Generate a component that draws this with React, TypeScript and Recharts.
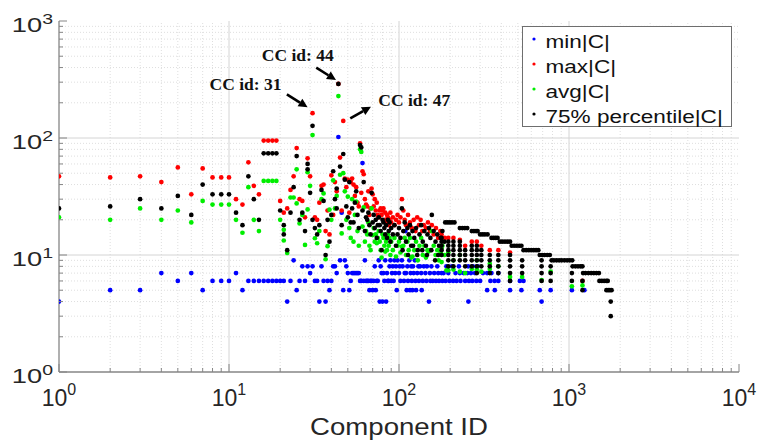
import React from 'react';
import { ScatterChart, Scatter, XAxis, YAxis, ReferenceLine, ReferenceDot, Legend } from 'recharts';

// Component-size statistics per connected component, log-log scatter.
// Each pair is [component id, |C| value].

const SERIES_NAMES = ['min|C|', 'max|C|', 'avg|C|', '75% percentile|C|'];
const SERIES_COLORS = ['#0000ff', '#ff0000', '#00ee00', '#000000'];

const X_DECADES = [1, 10, 100, 1000, 10000];
const Y_DECADES = [1, 10, 100, 1000];

const MIN_C = [
  [1, 4], [2, 5], [3, 5], [4, 7], [5, 6], [6, 7], [7, 5], [8, 6], [9, 6], [10, 6], [11, 7], [12, 5], [13, 6], [14, 6], [15, 6],
  [16, 6], [17, 6], [18, 6], [19, 6], [20, 6], [21, 6], [22, 4], [23, 6], [24, 9], [25, 5], [26, 6], [27, 8], [28, 6], [29, 8],
  [30, 7], [31, 8], [32, 6], [33, 6], [34, 4], [35, 8], [36, 6], [37, 4], [38, 6], [39, 5], [40, 6], [41, 8], [42, 8], [43, 7],
  [44, 102], [45, 9], [46, 23], [47, 5], [48, 9], [49, 8], [50, 7], [51, 5], [52, 6], [53, 7], [54, 7], [55, 7], [56, 7], [57, 7],
  [58, 7], [59, 6], [60, 6], [61, 61], [62, 6], [63, 9], [64, 6], [65, 6], [66, 6], [67, 5], [68, 6], [69, 6], [70, 5], [71, 6],
  [72, 8], [73, 5], [74, 6], [75, 6], [76, 9], [77, 4], [78, 8], [79, 7], [80, 4], [81, 7], [82, 6], [83, 9], [84, 4], [85, 7],
  [86, 6], [87, 6], [88, 8], [89, 9], [90, 6], [91, 7], [92, 8], [93, 6], [94, 9], [95, 7], [96, 8], [97, 5], [98, 9], [100, 7],
  [101, 8], [102, 6], [104, 9], [105, 8], [107, 6], [108, 7], [109, 16], [110, 7], [111, 5], [112, 8], [113, 6], [115, 9], [116, 5],
  [117, 7], [118, 8], [119, 6], [120, 5], [121, 8], [122, 7], [124, 9], [125, 6], [126, 5], [128, 7], [130, 8], [131, 6], [133, 8],
  [135, 7], [136, 5], [138, 6], [140, 8], [143, 7], [145, 6], [146, 8], [150, 4], [152, 7], [153, 6], [155, 8], [158, 6], [161, 7],
  [165, 6], [168, 8], [170, 7], [172, 6], [178, 7], [180, 6], [183, 7], [188, 6], [190, 8], [195, 7], [198, 6], [205, 8], [208, 6],
  [215, 7], [218, 6], [225, 8], [228, 7], [230, 6], [240, 7], [245, 6], [252, 7], [255, 8], [256, 4], [258, 6], [265, 7], [270, 6],
  [272, 8], [280, 7], [285, 6], [290, 8], [300, 6], [312, 7], [330, 5], [330, 7], [345, 6], [350, 7], [365, 6], [366, 5], [384, 7],
  [384, 6], [450, 5], [450, 6], [514, 6], [525, 5], [540, 6], [673, 5], [690, 4], [780, 5], [1040, 5], [1232, 5],
];

const MAX_C = [
  [1, 47], [2, 46], [3, 47], [4, 42], [5, 56], [6, 33], [7, 55], [8, 46], [9, 46], [10, 46], [11, 30], [12, 27], [13, 62], [14, 39],
  [15, 33], [16, 95], [17, 95], [18, 95], [19, 95], [20, 29], [21, 23], [22, 25], [23, 36], [24, 47], [25, 82], [26, 30], [27, 29],
  [28, 21], [29, 67], [30, 47], [31, 163], [32, 21], [33, 20], [34, 28], [35, 39], [36, 40], [37, 16], [38, 24], [39, 15], [40, 48],
  [41, 22], [42, 42], [43, 35], [44, 290], [45, 68], [46, 24], [47, 140], [48, 45], [49, 38], [50, 44], [51, 23], [52, 42], [53, 45],
  [54, 40], [55, 32], [56, 38], [57, 28], [58, 26], [59, 90], [60, 34], [61, 52], [62, 49], [63, 30], [64, 27], [65, 26], [66, 35],
  [67, 22], [68, 25], [69, 37], [70, 33], [71, 26], [72, 30], [73, 24], [74, 28], [75, 22], [76, 21], [77, 24], [78, 25], [79, 22],
  [80, 24], [81, 25], [82, 20], [83, 23], [84, 19], [85, 22], [86, 21], [87, 18], [88, 20], [89, 23], [90, 19], [92, 21], [94, 18],
  [96, 20], [98, 22], [100, 19], [102, 21], [104, 30], [106, 24], [108, 20], [110, 18], [113, 22], [116, 19], [119, 17], [122, 20],
  [125, 16], [128, 21], [131, 18], [134, 20], [137, 16], [140, 18], [144, 17], [148, 19], [152, 16], [156, 18], [160, 15], [165, 17],
  [170, 14], [175, 16], [178, 15], [186, 14], [195, 14], [209, 14], [228, 13.5], [245, 12], [268, 13], [287, 13], [305, 12], [342, 11],
  [384, 11], [450, 10.5], [1200, 6],
];

const AVG_C = [
  [1, 21], [2, 20], [3, 25], [4, 20], [5, 24], [6, 19], [7, 29], [8, 27], [9, 27], [10, 27], [11, 20], [12, 15.5], [13, 38], [14, 20],
  [15, 16], [16, 43], [17, 43], [18, 43], [19, 43], [20, 20], [21, 16.4], [21, 13.3], [22, 10.4], [23, 31], [24, 31], [25, 54],
  [25, 27.6], [26, 18.6], [27, 22], [28, 12.2], [29, 51], [29, 24.5], [30, 39], [31, 106], [32, 13.9], [33, 12.6], [34, 16], [35, 30],
  [36, 33.6], [37, 9.2], [38, 11.9], [39, 24.4], [40, 20], [41, 43.5], [42, 25], [43, 32], [44, 228], [45, 48.5], [46, 15.3], [47, 50],
  [48, 35], [49, 20], [50, 31.5], [51, 17], [52, 14], [53, 30], [54, 13], [55, 22], [56, 28.6], [57, 16], [58, 12], [59, 80], [60, 76],
  [61, 17.5], [62, 25.5], [63, 13], [64, 16], [65, 15], [66, 19], [67, 12], [68, 11], [69, 25], [70, 14.8], [71, 17], [72, 13], [73, 15],
  [74, 12.6], [75, 14], [76, 16], [77, 13], [78, 11], [79, 9.5], [80, 15], [81, 14], [82, 12], [83, 10.7], [84, 13], [85, 11], [86, 15],
  [87, 12], [88, 14], [89, 10], [90, 13], [92, 11], [94, 14], [96, 9.7], [98, 12], [100, 13], [102, 10.5], [104, 11.8], [106, 12],
  [108, 14], [110, 10], [112, 13], [114, 11], [116, 14], [118, 9.5], [120, 9.7], [123, 11], [126, 13], [129, 9], [132, 12], [135, 14],
  [138, 10], [141, 12], [144, 9.5], [147, 11], [149, 10.7], [153, 11], [156, 16], [160, 12], [164, 10], [168, 11], [171, 9], [176, 10.5],
  [178, 11.4], [178, 8.7], [180, 12], [185, 10], [190, 7.4], [195, 10.5], [195, 7.4], [209, 9], [209, 7.5], [228, 10], [228, 7.2],
  [245, 7], [268, 7.6], [287, 9], [287, 7.5], [305, 7.2], [342, 8.4], [342, 7.6], [384, 8], [450, 6.5], [530, 6.5], [690, 6.1],
  [780, 7.2], [1040, 5.4], [1200, 5.5],
];

const P75_C = [
  [1, 25], [2, 26], [3, 30], [4, 25], [5, 32], [6, 22], [7, 40], [8, 33], [9, 33], [10, 33], [11, 23], [12, 18], [13, 47], [14, 30],
  [15, 20], [16, 74], [17, 74], [18, 74], [19, 74], [20, 24], [21, 18], [21, 15], [22, 11], [23, 23], [24, 38], [25, 70], [26, 20],
  [27, 23], [28, 16], [29, 60], [29, 54], [30, 34], [31, 127], [31, 20], [32, 17], [33, 15], [34, 18], [35, 36], [36, 29], [37, 10],
  [38, 20], [39, 13], [40, 22], [41, 52], [42, 30], [43, 37], [43, 25], [44, 290], [45, 57], [46, 18], [47, 73], [48, 44], [49, 26],
  [50, 21], [51, 42], [52, 19], [53, 25], [54, 19], [55, 28], [56, 35], [57, 22], [58, 17], [59, 87], [60, 83], [61, 24], [62, 42],
  [63, 16], [64, 21], [65, 20], [66, 23], [67, 18], [68, 15], [69, 34], [70, 19], [71, 22], [72, 17], [73, 20], [74, 14], [75, 18],
  [76, 21], [77, 18], [78, 16], [79, 11], [80, 20], [81, 19], [82, 17], [83, 15], [84, 18], [85, 14], [86, 20], [87, 16], [88, 19],
  [89, 13], [90, 17], [92, 15], [94, 18], [96, 12], [98, 15], [100, 17], [102, 14], [104, 25], [105, 11], [106, 16], [108, 19],
  [110, 13], [112, 17], [113, 10], [114, 15], [116, 18], [118, 12], [120, 16], [121, 12], [123, 14], [126, 17], [128, 10], [129, 11],
  [132, 15], [135, 18], [137, 11], [138, 13], [141, 16], [144, 12], [146, 10], [147, 15], [150, 17], [153, 14], [155, 11], [156, 22],
  [160, 16], [163, 9], [164, 13], [168, 15], [170, 10], [172, 12], [176, 14], [180, 16], [185, 13],
  // vertical columns below the upper envelope
  [178, 14], [178, 13], [178, 12], [178, 11], [178, 10], [195, 13], [195, 12], [195, 11], [195, 10], [195, 9], [195, 8],
  [209, 13], [209, 12], [209, 11], [209, 10], [209, 9], [209, 8], [228, 13], [228, 12], [228, 11], [228, 10], [228, 9],
  [245, 11], [245, 10], [245, 9], [245, 8], [268, 12], [268, 11], [268, 10], [268, 9], [268, 8], [287, 12], [287, 11], [287, 10],
  [287, 9], [287, 8], [287, 7], [305, 11], [305, 10], [305, 9], [305, 8], [342, 10], [342, 9], [342, 8], [342, 7], [384, 10],
  [384, 9], [384, 8], [384, 7], [450, 10], [450, 9], [450, 8], [450, 7], [450, 6], [530, 9], [530, 8], [530, 7], [690, 9], [690, 8],
  [690, 7], [690, 6], [780, 8], [780, 7], [780, 6], [1040, 7], [1040, 6], [1200, 6], [1200, 5],
  // upper staircase
  [187, 19], [193, 19], [199, 19], [205, 19], [212, 19], [228, 17], [236, 17], [244, 17], [252, 17], [268, 16], [276, 16], [284, 16],
  [290, 16], [300, 15], [310, 15], [320, 15], [332, 15], [350, 14], [360, 14], [370, 14], [380, 14], [392, 13], [405, 13], [420, 13],
  [435, 13], [450, 13], [460, 12], [476, 12], [493, 12], [510, 12], [525, 12], [540, 11], [560, 11], [580, 11], [600, 11], [620, 11],
  [640, 11], [660, 11], [673, 10], [695, 10], [718, 10], [745, 10], [771, 10], [790, 9], [815, 9], [845, 9], [875, 9], [905, 9],
  [940, 9], [975, 9], [1010, 9], [1045, 9], [1050, 8], [1090, 8], [1130, 8], [1170, 8], [1200, 8], [1210, 7], [1250, 7], [1300, 7],
  [1350, 7], [1400, 7], [1450, 7], [1500, 7], [1510, 6], [1560, 6], [1610, 6], [1660, 6], [1690, 6], [1660, 5], [1700, 5], [1740, 5],
  [1780, 5], [1760, 4], [1760, 3],
];

const SERIES = [MIN_C, MAX_C, AVG_C, P75_C];

// annotations, in data units
const NOTES = [
  { text: 'CC id: 31', at: [7.69, 257], from: [21.9, 236], to: [29, 183] },
  { text: 'CC id: 44', at: [15.6, 455], from: [32.6, 399], to: [42.6, 313] },
  { text: 'CC id: 47', at: [75.5, 188], from: [51.7, 147], to: [68.4, 185] },
];

const W = 759;
const H = 445;
const AXIS = '#868686';
const TXT = '#262626';
const SANS = '"Liberation Sans", Arial, Helvetica, sans-serif';
const SERIF = '"Liberation Serif", "Times New Roman", serif';

const withMinors = (decades: number[]) => {
  const out: number[] = [];
  decades.forEach((d, i) => {
    out.push(d);
    if (i < decades.length - 1) for (let k = 2; k < 10; k++) out.push(d * k);
  });
  return out;
};
const X_TICKS = withMinors(X_DECADES);
const Y_TICKS = withMinors(Y_DECADES);
const exp10 = (v: number) => Math.round(Math.log10(v));
const isMajor = (v: number) => Math.abs(Math.log10(v) - exp10(v)) < 1e-6;

function BottomTick(props: any) {
  const { x, y, payload } = props;
  const v = payload.value;
  const major = isMajor(v);
  return (
    <g>
      <line x1={x} x2={x} y1={y} y2={y - (major ? 8 : 4)} stroke={AXIS} />
      {major && (
        <text x={x} y={y + 34} textAnchor="middle" fontFamily={SANS} fontSize={23} fill={TXT}>
          10<tspan fontSize={16} dy={-11}>{exp10(v)}</tspan>
        </text>
      )}
    </g>
  );
}

function TopTick(props: any) {
  const { x, y, payload } = props;
  const len = isMajor(payload.value) ? 8 : 4;
  return <line x1={x} x2={x} y1={y} y2={y + len} stroke={AXIS} />;
}

function LeftTick(props: any) {
  const { x, y, payload } = props;
  const v = payload.value;
  const major = isMajor(v);
  return (
    <g>
      <line x1={x} x2={x + (major ? 8 : 4)} y1={y} y2={y} stroke={AXIS} />
      {major && (
        <text transform={`translate(${x - 6},${y + 11}) scale(1.3,1)`} textAnchor="end" fontFamily={SANS} fontSize={21} fill={TXT}>
          10<tspan fontSize={15} dy={-8}>{exp10(v)}</tspan>
        </text>
      )}
    </g>
  );
}

function RightTick(props: any) {
  const { x, y, payload } = props;
  const len = isMajor(payload.value) ? 8 : 4;
  return <line x1={x} x2={x - len} y1={y} y2={y} stroke={AXIS} />;
}

function XTitle(props: any) {
  const vb = props.viewBox;
  return (
    <text transform={`translate(${vb.x + vb.width / 2},${vb.y + 63}) scale(1.2,1)`} textAnchor="middle" fontFamily={SANS} fontSize={23} fill={TXT}>
      Component ID
    </text>
  );
}

function Arrow(p: any) {
  const { x1, y1, x2, y2 } = p;
  const a = Math.atan2(y2 - y1, x2 - x1);
  const bx = x2 - 9 * Math.cos(a);
  const by = y2 - 9 * Math.sin(a);
  const nx = -Math.sin(a) * 4.5;
  const ny = Math.cos(a) * 4.5;
  return (
    <g>
      <line x1={x1} y1={y1} x2={bx} y2={by} stroke="#000" strokeWidth={2.6} />
      <polygon points={`${x2},${y2} ${bx + nx},${by + ny} ${bx - nx},${by - ny}`} fill="#000" />
    </g>
  );
}

function LegendBox() {
  return (
    <svg width={211} height={102} style={{ display: 'block' }}>
      <rect x={0.5} y={0.5} width={209} height={100} fill="#fff" stroke="#6e6e6e" />
      {SERIES_NAMES.map((n, i) => (
        <g key={n}>
          <circle cx={12} cy={13 + i * 25} r={1.6} fill={SERIES_COLORS[i]} />
          <text transform={`translate(23.5,${21.5 + i * 25}) scale(1.22,1)`} fontFamily={SANS} fontSize={18.5} fill="#111">
            {n}
          </text>
        </g>
      ))}
    </svg>
  );
}

const dotShape = (color: string) => (p: any) => <circle cx={p.cx} cy={p.cy} r={2.35} fill={color} />;

export default function App() {
  return (
    <div style={{ position: 'absolute', left: 0, top: 0, width: W, height: H, background: '#fff' }}>
      <ScatterChart width={W} height={H} margin={{ top: 21, right: 20, bottom: 0, left: 0 }}>
        {X_TICKS.filter((v) => v > 1 && v < 10000).map((v) => (
          <ReferenceLine key={`gx${v}`} x={v} stroke={isMajor(v) ? '#d4d4d4' : '#dedede'} strokeDasharray={isMajor(v) ? undefined : '1 2'} />
        ))}
        {Y_TICKS.filter((v) => v > 1 && v < 1000).map((v) => (
          <ReferenceLine key={`gy${v}`} y={v} stroke={isMajor(v) ? '#d4d4d4' : '#dedede'} strokeDasharray={isMajor(v) ? undefined : '1 2'} />
        ))}
        <XAxis
          dataKey="x" type="number" scale="log" domain={[1, 10000]} ticks={X_TICKS} interval={0}
          tickSize={0} tickMargin={0} tickLine={false} axisLine={{ stroke: AXIS, strokeWidth: 1.3 }}
          tick={<BottomTick />} height={73} allowDataOverflow label={<XTitle />}
        />
        <XAxis
          xAxisId="top" orientation="top" dataKey="x" type="number" scale="log" domain={[1, 10000]} ticks={X_TICKS}
          interval={0} tickSize={0} tickMargin={0} tickLine={false} axisLine={{ stroke: AXIS, strokeWidth: 1.3 }}
          tick={<TopTick />} height={0} allowDataOverflow
        />
        <YAxis
          dataKey="y" type="number" scale="log" domain={[1, 1000]} ticks={Y_TICKS} interval={0}
          tickSize={0} tickMargin={0} tickLine={false} axisLine={{ stroke: AXIS, strokeWidth: 1.3 }}
          tick={<LeftTick />} width={59} allowDataOverflow
        />
        <YAxis
          yAxisId="right" orientation="right" dataKey="y" type="number" scale="log" domain={[1, 1000]} ticks={Y_TICKS}
          interval={0} tickSize={0} tickMargin={0} tickLine={false} axisLine={{ stroke: AXIS, strokeWidth: 1.3 }}
          tick={<RightTick />} width={0} allowDataOverflow
        />
        {SERIES.map((pts, i) => (
          <Scatter
            key={SERIES_NAMES[i]}
            name={SERIES_NAMES[i]}
            data={pts.map(([x, y]) => ({ x, y }))}
            fill={SERIES_COLORS[i]}
            shape={dotShape(SERIES_COLORS[i])}
            isAnimationActive={false}
          />
        ))}
        {NOTES.map((n) => (
          <ReferenceLine key={`a${n.text}`} segment={[{ x: n.from[0], y: n.from[1] }, { x: n.to[0], y: n.to[1] }]} shape={Arrow} />
        ))}
        {NOTES.map((n) => (
          <ReferenceDot
            key={`t${n.text}`} x={n.at[0]} y={n.at[1]} r={0}
            shape={(p: any) => (
              <text x={p.cx} y={p.cy} fontFamily={SERIF} fontWeight="bold" fontSize={17.5} fill="#111">{n.text}</text>
            )}
          />
        ))}
        <Legend
          layout="horizontal" verticalAlign="middle" align="center"
          wrapperStyle={{ left: 522, top: 26, width: 211, height: 102 }}
          content={<LegendBox />}
        />
      </ScatterChart>
    </div>
  );
}
